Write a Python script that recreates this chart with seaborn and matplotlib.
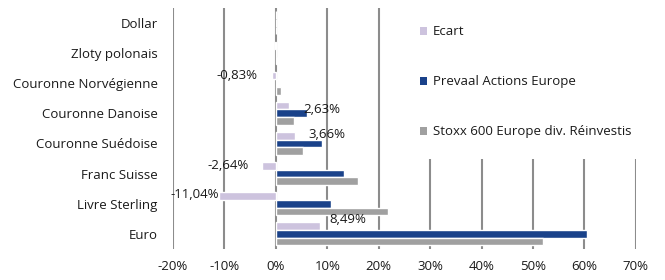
import numpy as np
import pandas as pd
import seaborn as sns
import matplotlib.pyplot as plt
from matplotlib.patches import Patch

devises = ["Dollar", "Zloty polonais", "Couronne Norvégienne", "Couronne Danoise",
           "Couronne Suédoise", "Franc Suisse", "Livre Sterling", "Euro"]
series = ["Ecart", "Prevaal Actions Europe", "Stoxx 600 Europe div. Réinvestis"]

ecart = [0.0, -0.1, -0.83, 2.63, 3.66, -2.64, -11.04, 8.49]
prevaal = [0.0, 0.1, 0.3, 6.1, 8.9, 13.3, 10.7, 60.4]
stoxx = [0.0, 0.3, 1.0, 3.5, 5.3, 15.9, 21.8, 52.0]
ecart_labels = ["", "", "-0,83%", "2,63%", "3,66%", "-2,64%", "-11,04%", "8,49%"]
xticks = [-20, -10, 0, 10, 20, 30, 40, 50, 60, 70]

colors = ["#cdc3de", "#1a428a", "#a0a0a0"]

df = pd.DataFrame({
    "devise": devises * 3,
    "serie": np.repeat(series, len(devises)),
    "valeur": ecart + prevaal + stoxx,
})

sns.set_style("white")
plt.rcParams["font.family"] = ["Open Sans", "DejaVu Sans"]
plt.rcParams["font.size"] = 9.5

fig = plt.figure(figsize=(6.65, 2.8), dpi=100)
ax = fig.add_axes([0.2602, 0.111, 0.696, 0.861])

sns.barplot(data=df, x="valeur", y="devise", hue="serie", order=devises,
            hue_order=series, palette=colors, orient="h", width=0.76,
            saturation=1, legend=False, ax=ax, errorbar=None)

ax.set_xlim(-20, 70)
ax.set_xticks(xticks)
ax.set_xticklabels([f"{t}%" for t in xticks], color="#1a1a1a")
ax.tick_params(axis="x", length=0, pad=8)
ax.tick_params(axis="y", length=0, pad=11, colors="#1a1a1a")
ax.set_xlabel("")
ax.set_ylabel("")
for s in ax.spines.values():
    s.set_visible(False)
ax.grid(axis="x", color="#8c8c8c", linewidth=1.5)
ax.set_axisbelow(True)

# etiquettes de l'ecart
offs = [(0, 0), (0, 0), (-10, 0), (10, -3), (10, 1), (-10, 0), (0, 1), (7, 5)]
for bar, lab, (dx, dy) in zip(ax.containers[0], ecart_labels, offs):
    if not lab:
        continue
    w = bar.get_width()
    y = bar.get_y() + bar.get_height() / 2
    ax.annotate(lab, (w, y), xytext=(dx, dy), textcoords="offset points",
                ha="left" if w > 0 else "right", va="center", color="#1a1a1a")

handles = [Patch(facecolor=c, edgecolor="none") for c in colors]
leg = fig.legend(handles, series, loc="upper left", bbox_to_anchor=(400 / 665, 1 - 5 / 280),
                 frameon=True, facecolor="white", edgecolor="none", framealpha=1,
                 fancybox=False, borderpad=1.55, labelspacing=2.8, handlelength=0.53,
                 handleheight=0.53, handletextpad=0.4, borderaxespad=0)
for t in leg.get_texts():
    t.set_color("#1a1a1a")

fig.savefig("out.png", dpi=100)
